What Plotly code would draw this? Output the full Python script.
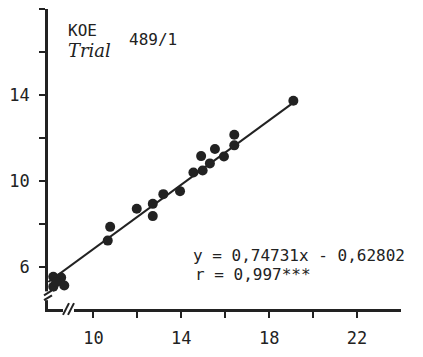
import plotly.graph_objects as go

# ---- data ----
x_values = [8.17, 8.53, 8.67, 8.17, 8.30,
            10.65, 10.76, 11.97, 12.70, 12.70, 13.18, 13.94,
            14.55, 14.97, 14.90, 15.30, 15.94, 15.53, 16.41, 16.41, 19.10]
y_values = [5.55, 5.51, 5.14, 5.09, 5.30,
            7.23, 7.87, 8.71, 8.37, 8.94, 9.39, 9.53,
            10.40, 10.49, 11.16, 10.82, 11.14, 11.49, 11.66, 12.15, 13.73]
slope = 0.74731
intercept = -0.62802
line_x = [7.95, 19.10]
line_y = [slope * v + intercept for v in line_x]

x_ticks = [10, 12, 14, 16, 18, 20, 22]
x_tick_labels = ["10", "", "14", "", "18", "", "22"]
y_ticks = [6, 8, 10, 12, 14, 16, 18]
y_tick_labels = ["6", "", "10", "", "14", "", ""]

INK = "#222222"
MONO = "DejaVu Sans Mono"

W, H = 423, 357
ML, MR, MT, MB = 48, 22, 9, 42
PW, PH = W - ML - MR, H - MT - MB

fig = go.Figure()
fig.add_trace(go.Scatter(x=line_x, y=line_y, mode="lines",
                         line=dict(color=INK, width=2), hoverinfo="skip"))
fig.add_trace(go.Scatter(x=x_values, y=y_values, mode="markers",
                         marker=dict(color=INK, size=10, line=dict(width=0))))

# pixel -> paper helpers for decorations (axis breaks, text placement)
def ppx(p):
    return (p - ML) / PW
def ppy(p):
    return (H - MB - p) / PH

shapes = []
# y-axis break
shapes.append(dict(type="rect", xref="paper", yref="paper", x0=ppx(43), x1=ppx(53),
                   y0=ppy(306), y1=ppy(297), fillcolor="white", line=dict(width=0), layer="above"))
for dy in (0, 5):
    shapes.append(dict(type="line", xref="paper", yref="paper", x0=ppx(44), x1=ppx(52),
                       y0=ppy(301 + dy), y1=ppy(296 + dy), line=dict(color=INK, width=2), layer="above"))
# x-axis break
shapes.append(dict(type="rect", xref="paper", yref="paper", x0=ppx(63), x1=ppx(74),
                   y0=ppy(320), y1=ppy(310), fillcolor="white", line=dict(width=0), layer="above"))
for dx in (0, 5):
    shapes.append(dict(type="line", xref="paper", yref="paper", x0=ppx(63 + dx), x1=ppx(69 + dx),
                       y0=ppy(321), y1=ppy(309), line=dict(color=INK, width=2), layer="above"))

annotations = [
    dict(x=ppx(66), y=ppy(31), text="KOE", showarrow=False, xanchor="left", yanchor="middle",
         xref="paper", yref="paper", font=dict(family=MONO, size=16, color=INK)),
    dict(x=ppx(66), y=ppy(51), text="<i>Trial</i>", showarrow=False, xanchor="left", yanchor="middle",
         xref="paper", yref="paper", font=dict(family="DejaVu Serif", size=18, color=INK)),
    dict(x=ppx(127), y=ppy(40), text="489/1", showarrow=False, xanchor="left", yanchor="middle",
         xref="paper", yref="paper", font=dict(family=MONO, size=16, color=INK)),
    dict(x=ppx(191), y=ppy(260), text="y = 0,74731x - 0,62802", showarrow=False,
         xanchor="left", yanchor="middle", xref="paper", yref="paper",
         font=dict(family=MONO, size=16, color=INK)),
    dict(x=ppx(193), y=ppy(280), text="r = 0,997***", showarrow=False,
         xanchor="left", yanchor="middle", xref="paper", yref="paper",
         font=dict(family=MONO, size=16, color=INK)),
]

fig.update_layout(
    width=W, height=H,
    margin=dict(l=ML, r=MR, t=MT, b=MB),
    paper_bgcolor="white", plot_bgcolor="white",
    showlegend=False,
    shapes=shapes, annotations=annotations,
    xaxis=dict(range=[7.93, 24.0], tickvals=x_ticks, ticktext=x_tick_labels,
               showgrid=False, zeroline=False, showline=True, linecolor=INK, linewidth=2.5,
               ticks="outside", ticklen=6, tickwidth=2, tickcolor=INK,
               tickfont=dict(family=MONO, size=17, color=INK), ticklabelstandoff=6),
    yaxis=dict(range=[4.05, 18.0], tickvals=y_ticks, ticktext=y_tick_labels,
               showgrid=False, zeroline=False, showline=True, linecolor=INK, linewidth=2.5,
               ticks="outside", ticklen=6, tickwidth=2, tickcolor=INK,
               tickfont=dict(family=MONO, size=17, color=INK), ticklabelstandoff=6),
)

fig.write_html("out.html")
